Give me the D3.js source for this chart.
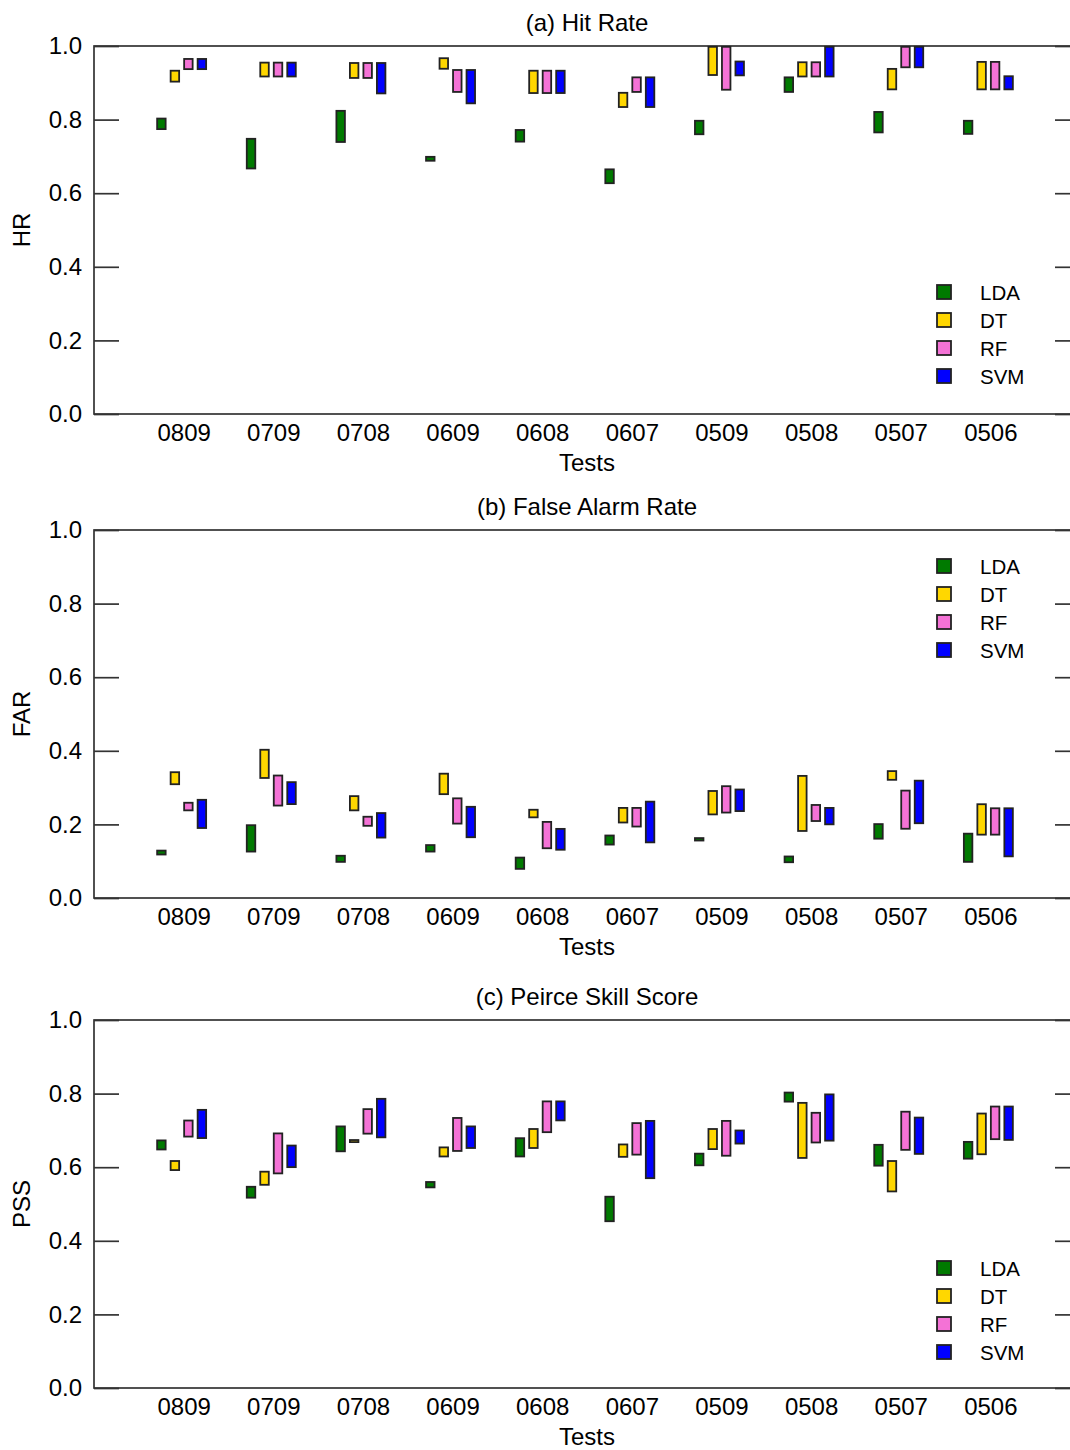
<!DOCTYPE html>
<html>
<head>
<meta charset="utf-8">
<script src="https://cdn.jsdelivr.net/npm/d3@7"></script>
<style>
  body { margin: 0; background: #fff; }
  svg { display: block; font-family: "Liberation Sans", Arial, Helvetica, sans-serif; }
</style>
</head>
<body>
<svg id="chart" width="1070" height="1450"></svg>
<script>
// categories
var tests = ["0809", "0709", "0708", "0609", "0608", "0607", "0509", "0508", "0507", "0506"];
var methods = ["LDA", "DT", "RF", "SVM"];
var methodColors = ["#007a00", "#ffd700", "#f472d6", "#0000ff"];
var yTicks = [0, 0.2, 0.4, 0.6, 0.8, 1.0];

// (a) hit rate, [low, high] per test
var hrLDA = [[0.772,0.805],[0.665,0.750],[0.737,0.826],[0.686,0.701],[0.738,0.774],[0.625,0.667],[0.758,0.799],[0.873,0.917],[0.763,0.823],[0.759,0.799]];
var hrDT  = [[0.901,0.935],[0.915,0.957],[0.911,0.956],[0.936,0.969],[0.870,0.935],[0.832,0.875],[0.919,1.000],[0.915,0.958],[0.880,0.940],[0.880,0.959]];
var hrRF  = [[0.935,0.967],[0.915,0.957],[0.911,0.956],[0.873,0.937],[0.870,0.935],[0.873,0.917],[0.879,1.000],[0.915,0.958],[0.940,1.000],[0.880,0.959]];
var hrSVM = [[0.935,0.967],[0.915,0.957],[0.869,0.956],[0.842,0.937],[0.870,0.935],[0.832,0.917],[0.918,0.960],[0.915,1.000],[0.940,1.000],[0.880,0.920]];

// (b) false alarm rate
var farLDA = [[0.116,0.131],[0.124,0.200],[0.096,0.117],[0.124,0.146],[0.077,0.112],[0.143,0.172],[0.154,0.165],[0.095,0.115],[0.159,0.203],[0.096,0.177]];
var farDT  = [[0.307,0.344],[0.324,0.405],[0.236,0.279],[0.280,0.340],[0.217,0.242],[0.203,0.247],[0.225,0.293],[0.180,0.334],[0.319,0.347],[0.170,0.257]];
var farRF  = [[0.236,0.261],[0.249,0.335],[0.194,0.223],[0.200,0.273],[0.133,0.209],[0.192,0.247],[0.230,0.306],[0.207,0.255],[0.186,0.294],[0.170,0.246]];
var farSVM = [[0.188,0.269],[0.253,0.317],[0.162,0.233],[0.163,0.250],[0.129,0.190],[0.149,0.264],[0.234,0.297],[0.198,0.247],[0.201,0.321],[0.111,0.246]];

// (c) peirce skill score
var pssLDA = [[0.646,0.675],[0.515,0.549],[0.641,0.713],[0.543,0.562],[0.627,0.681],[0.451,0.522],[0.603,0.639],[0.776,0.805],[0.602,0.663],[0.621,0.671]];
var pssDT  = [[0.590,0.619],[0.550,0.590],[0.666,0.676],[0.627,0.656],[0.650,0.706],[0.626,0.664],[0.647,0.706],[0.623,0.777],[0.532,0.619],[0.633,0.748]];
var pssRF  = [[0.681,0.729],[0.581,0.694],[0.689,0.760],[0.642,0.736],[0.693,0.781],[0.632,0.722],[0.629,0.728],[0.665,0.750],[0.645,0.753],[0.674,0.767]];
var pssSVM = [[0.677,0.758],[0.598,0.661],[0.679,0.788],[0.650,0.713],[0.725,0.781],[0.568,0.728],[0.662,0.702],[0.670,0.800],[0.634,0.737],[0.672,0.767]];

var panels = [
  { title: "(a) Hit Rate", ylab: "HR", top: 46, series: [hrLDA, hrDT, hrRF, hrSVM], legendY: 292 },
  { title: "(b) False Alarm Rate", ylab: "FAR", top: 530, series: [farLDA, farDT, farRF, farSVM], legendY: 566 },
  { title: "(c) Peirce Skill Score", ylab: "PSS", top: 1020, series: [pssLDA, pssDT, pssRF, pssSVM], legendY: 1268 }
];

var svg = d3.select("#chart");
var left = 94, right = 1080, plotH = 368;
var axisColor = "#333";
var textColor = "#000";
var fontSize = 24;
var barW = 8.5, barGap = 13.5;

// test i sits at position i+1, frame spans 0..11
var x = d3.scaleLinear().domain([0, tests.length + 1]).range([left, right]);

panels.forEach(function(p) {
  var y = d3.scaleLinear().domain([0, 1]).range([p.top + plotH, p.top]);
  var g = svg.append("g");

  // frame
  g.append("rect")
    .attr("x", left).attr("y", p.top)
    .attr("width", right - left).attr("height", plotH)
    .attr("fill", "none").attr("stroke", axisColor).attr("stroke-width", 1.7);

  var yAxis = g.append("g")
    .attr("transform", "translate(" + left + ",0)")
    .call(d3.axisLeft(y).tickValues(yTicks).tickFormat(d3.format(".1f"))
      .tickSizeInner(-25).tickSizeOuter(0).tickPadding(12));
  yAxis.select(".domain").remove();
  yAxis.selectAll("line").attr("stroke", axisColor).attr("stroke-width", 1.7);
  yAxis.selectAll("text").attr("font-size", fontSize).attr("fill", textColor)
    .attr("font-family", "Liberation Sans, Arial, sans-serif");

  var yAxisR = g.append("g")
    .attr("transform", "translate(" + right + ",0)")
    .call(d3.axisRight(y).tickValues(yTicks).tickFormat("")
      .tickSizeInner(-25).tickSizeOuter(0));
  yAxisR.select(".domain").remove();
  yAxisR.selectAll("line").attr("stroke", axisColor).attr("stroke-width", 1.7);

  var xAxis = g.append("g")
    .attr("transform", "translate(0," + (p.top + plotH) + ")")
    .call(d3.axisBottom(x).tickValues(d3.range(1, tests.length + 1))
      .tickFormat(function(d) { return tests[d - 1]; })
      .tickSize(0).tickPadding(10));
  xAxis.select(".domain").remove();
  xAxis.selectAll("text").attr("font-size", fontSize).attr("fill", textColor)
    .attr("font-family", "Liberation Sans, Arial, sans-serif");

  // titles and labels
  g.append("text")
    .attr("x", (left + right) / 2).attr("y", p.top - 15)
    .attr("text-anchor", "middle").attr("font-size", fontSize).attr("fill", textColor)
    .text(p.title);
  g.append("text")
    .attr("x", (left + right) / 2).attr("y", p.top + plotH + 57)
    .attr("text-anchor", "middle").attr("font-size", fontSize).attr("fill", textColor)
    .text("Tests");
  g.append("text")
    .attr("transform", "translate(30," + (p.top + plotH / 2) + ") rotate(-90)")
    .attr("text-anchor", "middle").attr("font-size", fontSize).attr("fill", textColor)
    .text(p.ylab);

  // floating bars
  p.series.forEach(function(ranges, m) {
    var off = (m - 1.5) * barGap - 2;
    g.selectAll(".bar" + m)
      .data(ranges)
      .enter()
      .append("rect")
      .attr("x", function(d, i) { return x(i + 1) + off - barW / 2; })
      .attr("y", function(d) { return y(d[1]) + 0.8; })
      .attr("width", barW)
      .attr("height", function(d) { return Math.max(1.5, y(d[0]) - y(d[1]) - 1.6); })
      .attr("fill", methodColors[m])
      .attr("stroke", "#222")
      .attr("stroke-width", 1.8);
  });

  // legend
  var lg = g.append("g").attr("transform", "translate(944," + p.legendY + ")");
  methods.forEach(function(name, m) {
    lg.append("rect")
      .attr("x", -7).attr("y", m * 28 - 7)
      .attr("width", 14).attr("height", 14)
      .attr("fill", methodColors[m]).attr("stroke", "#222").attr("stroke-width", 1.8);
    lg.append("text")
      .attr("x", 36).attr("y", m * 28 + 7.5)
      .attr("font-size", 20.5).attr("fill", textColor)
      .text(name);
  });
});
</script>
</body>
</html>
